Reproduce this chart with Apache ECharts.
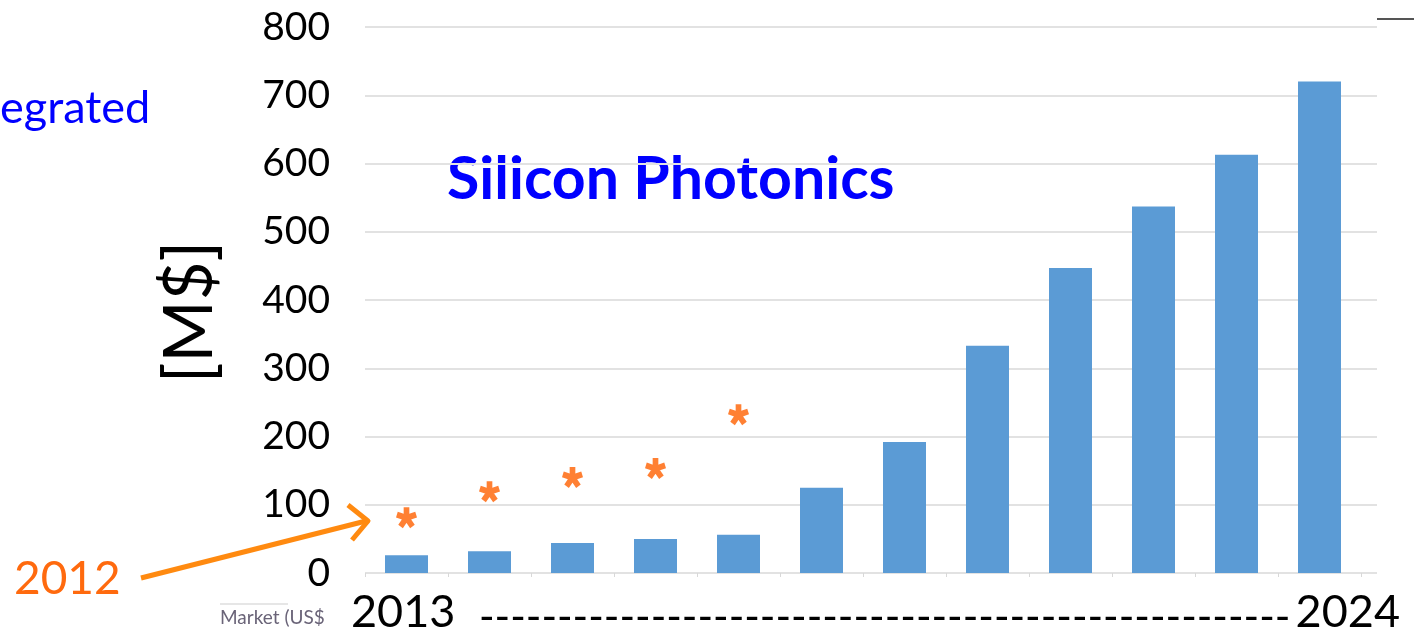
<!DOCTYPE html>
<html>
<head>
<meta charset="utf-8">
<script src="https://cdn.jsdelivr.net/npm/echarts@6/dist/echarts.min.js"></script>
<style>
  html, body { margin: 0; padding: 0; background: #ffffff; }
  #chart { width: 1414px; height: 637px; }
</style>
</head>
<body>
<div id="chart"></div>
<script>
// Market size per year, M$
const years = ['2013', '2014', '2015', '2016', '2017', '2018', '2019', '2020', '2021', '2022', '2023', '2024'];
const marketValues = [26, 32, 44, 50, 56, 125, 192, 333, 447, 537, 613, 720];
// Earlier (2012) forecast for the first five years
const forecast2012 = [81, 119, 140, 153, 232];
// Value axis range
const yMin = 0;
const yMax = 800;
const yStep = 100;

const FONT = 'Lato, "Open Sans", sans-serif';
const BLUE = '#0000FF';
const ORANGE = '#FF6000';

// Five-spoke asterisk drawn as a path symbol
function asteriskPath() {
  const len = 10, half = 2.8;
  let d = '';
  for (let k = 0; k < 5; k++) {
    const a = -Math.PI / 2 + k * 2 * Math.PI / 5;
    const ux = Math.cos(a), uy = Math.sin(a);
    const px = -uy * half, py = ux * half;
    const pts = [
      [px, py], [px + ux * len, py + uy * len],
      [-px + ux * len, -py + uy * len], [-px, -py]
    ];
    d += 'M' + pts.map(p => (p[0] + 12).toFixed(2) + ' ' + (p[1] + 12).toFixed(2)).join('L') + 'Z';
  }
  return 'path://' + d;
}

const chart = echarts.init(document.getElementById('chart'), null, { renderer: 'canvas' });

const gridTop = 27;
const gridBottom = 64;

const option = {
  backgroundColor: '#ffffff',
  animation: false,
  grid: [
    // grid with the horizontal rules and value labels
    { left: 365, right: 37, top: gridTop, bottom: gridBottom },
    // grid holding the columns
    { left: 365, width: 996, top: gridTop, bottom: gridBottom }
  ],
  xAxis: [
    {
      gridIndex: 0, type: 'category', data: years,
      axisLine: { show: false }, axisTick: { show: false }, axisLabel: { show: false }
    },
    {
      gridIndex: 1, type: 'category', data: years,
      axisLine: { show: false },
      axisTick: { show: true, length: 4, lineStyle: { color: '#d8d8d8' } },
      axisLabel: { show: false }
    }
  ],
  yAxis: [
    {
      gridIndex: 0, type: 'value', min: yMin, max: yMax, interval: yStep,
      axisLine: { show: false }, axisTick: { show: false },
      axisLabel: { color: '#000', fontFamily: FONT, fontSize: 39, margin: 35 },
      splitLine: { lineStyle: { color: '#e2e2e2', width: 2 } }
    },
    {
      gridIndex: 1, type: 'value', min: yMin, max: yMax, interval: yStep,
      axisLine: { show: false }, axisTick: { show: false },
      axisLabel: { show: false }, splitLine: { show: false }
    }
  ],
  series: [
    {
      type: 'bar', xAxisIndex: 1, yAxisIndex: 1,
      data: marketValues,
      barWidth: 43,
      itemStyle: { color: '#5B9BD5' }
    },
    {
      type: 'scatter', xAxisIndex: 1, yAxisIndex: 1,
      data: forecast2012,
      symbol: asteriskPath(),
      symbolSize: 21,
      itemStyle: { color: ORANGE },
      z: 5
    }
  ],
  graphic: [
    {
      type: 'text', left: 0, top: 86,
      style: { text: 'egrated', fill: BLUE, font: '45px ' + FONT }
    },
    {
      type: 'text', left: 447, top: 150,
      style: { text: 'Silicon Photonics', fill: BLUE, font: 'bold 59px ' + FONT }
    },
    {
      type: 'text', x: 190, y: 312, rotation: Math.PI / 2,
      style: { text: '[M$]', fill: '#000', font: '67px ' + FONT, align: 'center', verticalAlign: 'middle' }
    },
    {
      type: 'text', left: 14, top: 556,
      style: { text: '2012', fill: '#FF6A0E', font: '46px ' + FONT }
    },
    {
      type: 'polyline',
      shape: { points: [[141, 578], [366, 521]] },
      style: { stroke: '#FF8A10', lineWidth: 5, fill: null }
    },
    {
      type: 'polyline',
      shape: { points: [[348, 505], [368, 521], [352, 540]] },
      style: { stroke: '#FF8A10', lineWidth: 5, fill: null, lineJoin: 'round' }
    },
    {
      type: 'line', shape: { x1: 220, y1: 604, x2: 288, y2: 604 },
      style: { stroke: '#e6e6e6', lineWidth: 2 }
    },
    {
      type: 'text', left: 220, top: 608,
      style: { text: 'Market (US$', fill: '#6a6478', font: '19px ' + FONT }
    },
    {
      type: 'text', left: 351, top: 590,
      style: { text: '2013', fill: '#000', font: '45px ' + FONT }
    },
    {
      type: 'text', left: 479, top: 596,
      style: { text: '----------------------------------------------------', fill: '#000', font: '42px ' + FONT }
    },
    {
      type: 'text', right: 14, top: 590,
      style: { text: '2024', fill: '#000', font: '45px ' + FONT }
    },
    {
      type: 'line', shape: { x1: 1377, y1: 19, x2: 1414, y2: 19 },
      style: { stroke: '#555555', lineWidth: 2 }
    }
  ]
};

chart.setOption(option);
</script>
</body>
</html>
